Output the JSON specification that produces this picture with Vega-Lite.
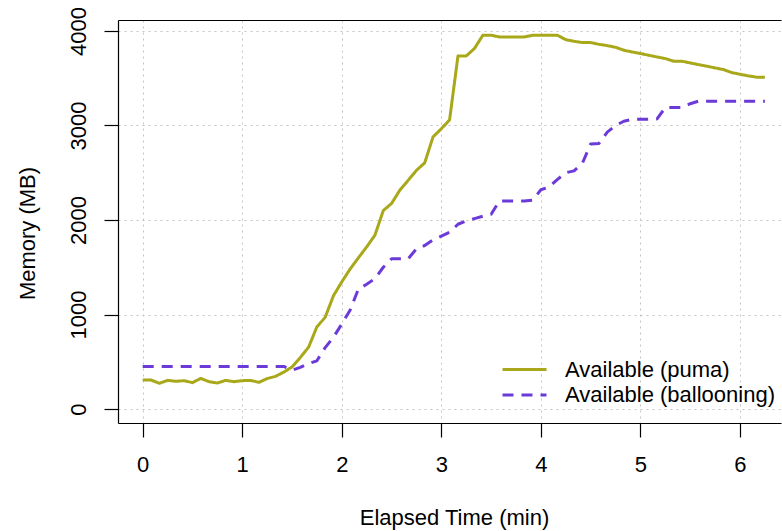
{
  "$schema": "https://vega.github.io/schema/vega-lite/v6.json",
  "autosize": "none",
  "width": 663,
  "height": 403,
  "padding": {"left": 118, "top": 20, "right": 1, "bottom": 108},
  "background": "white",
  "config": {
    "view": {"stroke": null},
    "font": "Liberation Sans",
    "axis": {
      "labelFont": "Liberation Sans",
      "titleFont": "Liberation Sans",
      "labelFontSize": 22,
      "titleFontSize": 22,
      "titleFontWeight": "normal",
      "labelColor": "black",
      "titleColor": "black",
      "domainColor": "black",
      "tickColor": "black",
      "domainWidth": 1.2,
      "tickWidth": 1.2,
      "tickSize": 14,
      "gridColor": "#c4c4c4",
      "gridDash": [2, 4],
      "gridWidth": 1
    },
    "legend": {
      "labelFont": "Liberation Sans",
      "labelFontSize": 22,
      "labelColor": "black",
      "labelLimit": 400
    }
  },
  "data": {
    "values": [
      {"t": 0, "mb": 307, "series": "Available (puma)"},
      {"t": 0.083, "mb": 307, "series": "Available (puma)"},
      {"t": 0.167, "mb": 272, "series": "Available (puma)"},
      {"t": 0.25, "mb": 303, "series": "Available (puma)"},
      {"t": 0.333, "mb": 293, "series": "Available (puma)"},
      {"t": 0.417, "mb": 300, "series": "Available (puma)"},
      {"t": 0.5, "mb": 279, "series": "Available (puma)"},
      {"t": 0.583, "mb": 324, "series": "Available (puma)"},
      {"t": 0.667, "mb": 289, "series": "Available (puma)"},
      {"t": 0.75, "mb": 275, "series": "Available (puma)"},
      {"t": 0.833, "mb": 303, "series": "Available (puma)"},
      {"t": 0.917, "mb": 289, "series": "Available (puma)"},
      {"t": 1.0, "mb": 300, "series": "Available (puma)"},
      {"t": 1.083, "mb": 303, "series": "Available (puma)"},
      {"t": 1.167, "mb": 282, "series": "Available (puma)"},
      {"t": 1.25, "mb": 322, "series": "Available (puma)"},
      {"t": 1.333, "mb": 345, "series": "Available (puma)"},
      {"t": 1.417, "mb": 390, "series": "Available (puma)"},
      {"t": 1.5, "mb": 445, "series": "Available (puma)"},
      {"t": 1.583, "mb": 545, "series": "Available (puma)"},
      {"t": 1.667, "mb": 655, "series": "Available (puma)"},
      {"t": 1.75, "mb": 870, "series": "Available (puma)"},
      {"t": 1.833, "mb": 970, "series": "Available (puma)"},
      {"t": 1.917, "mb": 1200, "series": "Available (puma)"},
      {"t": 2.0, "mb": 1345, "series": "Available (puma)"},
      {"t": 2.083, "mb": 1480, "series": "Available (puma)"},
      {"t": 2.167, "mb": 1600, "series": "Available (puma)"},
      {"t": 2.25, "mb": 1715, "series": "Available (puma)"},
      {"t": 2.333, "mb": 1840, "series": "Available (puma)"},
      {"t": 2.417, "mb": 2100, "series": "Available (puma)"},
      {"t": 2.5, "mb": 2175, "series": "Available (puma)"},
      {"t": 2.583, "mb": 2315, "series": "Available (puma)"},
      {"t": 2.667, "mb": 2420, "series": "Available (puma)"},
      {"t": 2.75, "mb": 2525, "series": "Available (puma)"},
      {"t": 2.833, "mb": 2605, "series": "Available (puma)"},
      {"t": 2.917, "mb": 2880, "series": "Available (puma)"},
      {"t": 3.0, "mb": 2965, "series": "Available (puma)"},
      {"t": 3.083, "mb": 3060, "series": "Available (puma)"},
      {"t": 3.167, "mb": 3735, "series": "Available (puma)"},
      {"t": 3.25, "mb": 3735, "series": "Available (puma)"},
      {"t": 3.333, "mb": 3815, "series": "Available (puma)"},
      {"t": 3.417, "mb": 3955, "series": "Available (puma)"},
      {"t": 3.5, "mb": 3955, "series": "Available (puma)"},
      {"t": 3.583, "mb": 3937, "series": "Available (puma)"},
      {"t": 3.667, "mb": 3937, "series": "Available (puma)"},
      {"t": 3.75, "mb": 3937, "series": "Available (puma)"},
      {"t": 3.833, "mb": 3937, "series": "Available (puma)"},
      {"t": 3.917, "mb": 3954, "series": "Available (puma)"},
      {"t": 4.0, "mb": 3954, "series": "Available (puma)"},
      {"t": 4.083, "mb": 3954, "series": "Available (puma)"},
      {"t": 4.167, "mb": 3954, "series": "Available (puma)"},
      {"t": 4.25, "mb": 3908, "series": "Available (puma)"},
      {"t": 4.333, "mb": 3891, "series": "Available (puma)"},
      {"t": 4.417, "mb": 3877, "series": "Available (puma)"},
      {"t": 4.5, "mb": 3877, "series": "Available (puma)"},
      {"t": 4.583, "mb": 3859, "series": "Available (puma)"},
      {"t": 4.667, "mb": 3845, "series": "Available (puma)"},
      {"t": 4.75, "mb": 3827, "series": "Available (puma)"},
      {"t": 4.833, "mb": 3796, "series": "Available (puma)"},
      {"t": 4.917, "mb": 3778, "series": "Available (puma)"},
      {"t": 5.0, "mb": 3761, "series": "Available (puma)"},
      {"t": 5.083, "mb": 3743, "series": "Available (puma)"},
      {"t": 5.167, "mb": 3725, "series": "Available (puma)"},
      {"t": 5.25, "mb": 3708, "series": "Available (puma)"},
      {"t": 5.333, "mb": 3680, "series": "Available (puma)"},
      {"t": 5.417, "mb": 3680, "series": "Available (puma)"},
      {"t": 5.5, "mb": 3662, "series": "Available (puma)"},
      {"t": 5.583, "mb": 3644, "series": "Available (puma)"},
      {"t": 5.667, "mb": 3627, "series": "Available (puma)"},
      {"t": 5.75, "mb": 3609, "series": "Available (puma)"},
      {"t": 5.833, "mb": 3592, "series": "Available (puma)"},
      {"t": 5.917, "mb": 3560, "series": "Available (puma)"},
      {"t": 6.0, "mb": 3542, "series": "Available (puma)"},
      {"t": 6.083, "mb": 3525, "series": "Available (puma)"},
      {"t": 6.167, "mb": 3511, "series": "Available (puma)"},
      {"t": 6.25, "mb": 3511, "series": "Available (puma)"},
      {"t": 0, "mb": 450, "series": "Available (ballooning)"},
      {"t": 0.5, "mb": 450, "series": "Available (ballooning)"},
      {"t": 1.0, "mb": 450, "series": "Available (ballooning)"},
      {"t": 1.417, "mb": 450, "series": "Available (ballooning)"},
      {"t": 1.5, "mb": 410, "series": "Available (ballooning)"},
      {"t": 1.583, "mb": 440, "series": "Available (ballooning)"},
      {"t": 1.667, "mb": 480, "series": "Available (ballooning)"},
      {"t": 1.75, "mb": 510, "series": "Available (ballooning)"},
      {"t": 1.833, "mb": 650, "series": "Available (ballooning)"},
      {"t": 1.917, "mb": 760, "series": "Available (ballooning)"},
      {"t": 2.0, "mb": 900, "series": "Available (ballooning)"},
      {"t": 2.083, "mb": 1045, "series": "Available (ballooning)"},
      {"t": 2.167, "mb": 1270, "series": "Available (ballooning)"},
      {"t": 2.25, "mb": 1320, "series": "Available (ballooning)"},
      {"t": 2.333, "mb": 1380, "series": "Available (ballooning)"},
      {"t": 2.417, "mb": 1500, "series": "Available (ballooning)"},
      {"t": 2.5, "mb": 1590, "series": "Available (ballooning)"},
      {"t": 2.583, "mb": 1590, "series": "Available (ballooning)"},
      {"t": 2.667, "mb": 1590, "series": "Available (ballooning)"},
      {"t": 2.75, "mb": 1695, "series": "Available (ballooning)"},
      {"t": 2.833, "mb": 1730, "series": "Available (ballooning)"},
      {"t": 2.917, "mb": 1790, "series": "Available (ballooning)"},
      {"t": 3.0, "mb": 1830, "series": "Available (ballooning)"},
      {"t": 3.083, "mb": 1870, "series": "Available (ballooning)"},
      {"t": 3.167, "mb": 1955, "series": "Available (ballooning)"},
      {"t": 3.25, "mb": 1990, "series": "Available (ballooning)"},
      {"t": 3.333, "mb": 2015, "series": "Available (ballooning)"},
      {"t": 3.417, "mb": 2040, "series": "Available (ballooning)"},
      {"t": 3.5, "mb": 2060, "series": "Available (ballooning)"},
      {"t": 3.583, "mb": 2200, "series": "Available (ballooning)"},
      {"t": 3.667, "mb": 2200, "series": "Available (ballooning)"},
      {"t": 3.75, "mb": 2200, "series": "Available (ballooning)"},
      {"t": 3.833, "mb": 2200, "series": "Available (ballooning)"},
      {"t": 3.917, "mb": 2210, "series": "Available (ballooning)"},
      {"t": 4.0, "mb": 2320, "series": "Available (ballooning)"},
      {"t": 4.083, "mb": 2350, "series": "Available (ballooning)"},
      {"t": 4.167, "mb": 2430, "series": "Available (ballooning)"},
      {"t": 4.25, "mb": 2500, "series": "Available (ballooning)"},
      {"t": 4.333, "mb": 2520, "series": "Available (ballooning)"},
      {"t": 4.417, "mb": 2600, "series": "Available (ballooning)"},
      {"t": 4.5, "mb": 2805, "series": "Available (ballooning)"},
      {"t": 4.583, "mb": 2810, "series": "Available (ballooning)"},
      {"t": 4.667, "mb": 2930, "series": "Available (ballooning)"},
      {"t": 4.75, "mb": 3000, "series": "Available (ballooning)"},
      {"t": 4.833, "mb": 3045, "series": "Available (ballooning)"},
      {"t": 4.917, "mb": 3065, "series": "Available (ballooning)"},
      {"t": 5.0, "mb": 3065, "series": "Available (ballooning)"},
      {"t": 5.083, "mb": 3065, "series": "Available (ballooning)"},
      {"t": 5.167, "mb": 3070, "series": "Available (ballooning)"},
      {"t": 5.25, "mb": 3190, "series": "Available (ballooning)"},
      {"t": 5.333, "mb": 3190, "series": "Available (ballooning)"},
      {"t": 5.417, "mb": 3190, "series": "Available (ballooning)"},
      {"t": 5.5, "mb": 3230, "series": "Available (ballooning)"},
      {"t": 5.583, "mb": 3257, "series": "Available (ballooning)"},
      {"t": 5.75, "mb": 3257, "series": "Available (ballooning)"},
      {"t": 6.0, "mb": 3257, "series": "Available (ballooning)"},
      {"t": 6.25, "mb": 3257, "series": "Available (ballooning)"}
    ]
  },
  "encoding": {
    "y": {
      "field": "mb",
      "type": "quantitative",
      "scale": {"domain": [-148, 4116], "nice": false, "zero": false},
      "axis": {
        "title": "Memory (MB)",
        "values": [0, 1000, 2000, 3000, 4000],
        "format": "d",
        "labelAngle": -90,
        "labelAlign": "center",
        "labelBaseline": "bottom",
        "labelPadding": 14,
        "titleAngle": -90,
        "titleX": -91,
        "titleY": 213,
        "titleAlign": "center",
        "titleBaseline": "middle",
        "grid": true
      }
    },
    "color": {
      "field": "series",
      "type": "nominal",
      "scale": {
        "domain": ["Available (puma)", "Available (ballooning)"],
        "range": ["#a8a81a", "#6b3ad9"]
      },
      "legend": {
        "title": null,
        "orient": "none",
        "legendX": 394,
        "legendY": 337,
        "padding": 0,
        "symbolType": "M-2,0H2",
        "symbolSize": 484,
        "symbolStrokeWidth": 3,
        "labelOffset": 28,
        "labelLimit": 400,
        "rowPadding": 1.5
      }
    },
    "strokeDash": {
      "field": "series",
      "type": "nominal",
      "scale": {
        "domain": ["Available (puma)", "Available (ballooning)"],
        "range": [[1, 0], [11, 8]]
      },
      "legend": {
        "title": null,
        "orient": "none",
        "legendX": 394,
        "legendY": 337,
        "padding": 0,
        "symbolType": "M-2,0H2",
        "symbolSize": 484,
        "symbolStrokeWidth": 3,
        "labelOffset": 28,
        "labelLimit": 400,
        "rowPadding": 1.5
      }
    }
  },
  "layer": [
    {
      "transform": [{"filter": "datum.series === 'Available (puma)'"}],
      "mark": {"type": "line", "strokeWidth": 3, "strokeJoin": "round", "strokeCap": "butt"},
      "encoding": {
        "x": {
          "field": "t",
          "type": "quantitative",
          "scale": {"domain": [-0.248, 6.412], "nice": false, "zero": false},
          "axis": {
            "title": "Elapsed Time (min)",
            "values": [0, 1, 2, 3, 4, 5, 6],
            "labelPadding": 17,
            "titleX": 336,
            "titleY": 94,
            "titleAlign": "center",
            "titleBaseline": "middle",
            "grid": true
          }
        }
      }
    },
    {
      "transform": [{"filter": "datum.series === 'Available (ballooning)'"}],
      "mark": {"type": "line", "strokeWidth": 3, "strokeJoin": "round", "strokeCap": "butt"},
      "encoding": {
        "x": {
          "field": "t",
          "type": "quantitative",
          "scale": {"domain": [-0.248, 6.412], "nice": false, "zero": false},
          "axis": {
            "orient": "top",
            "title": null,
            "labels": false,
            "ticks": false,
            "grid": false,
            "domain": true
          }
        }
      }
    }
  ],
  "resolve": {"axis": {"x": "independent"}}
}
